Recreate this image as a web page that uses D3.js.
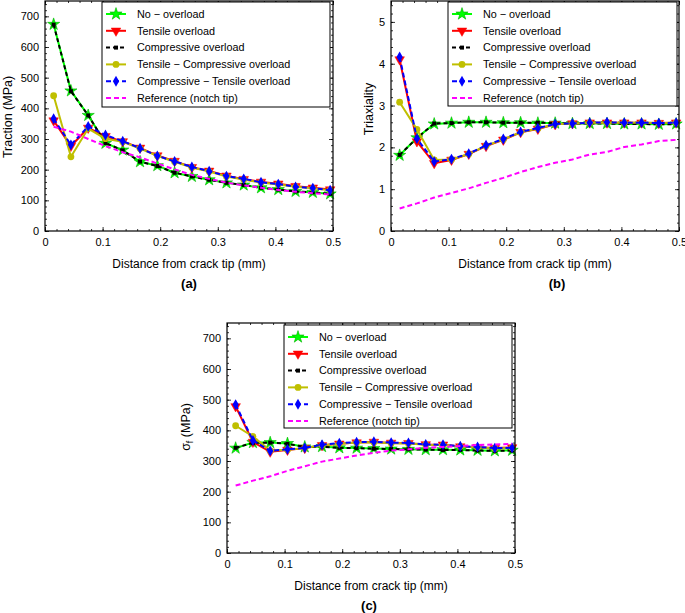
<!DOCTYPE html>
<html><head><meta charset="utf-8">
<script src="https://cdn.jsdelivr.net/npm/d3@7"></script>
<style>
body{margin:0;background:#fff}
svg{display:block}
text{font-family:"Liberation Sans",Arial,Helvetica,sans-serif;fill:#000}
</style>
</head><body><svg id="chart" width="685" height="613"></svg>
<script>
// ---------- data ----------
const xDist = [0.015,0.045,0.075,0.105,0.135,0.165,0.195,0.225,0.255,0.285,0.315,0.345,0.375,0.405,0.435,0.465,0.495];
const seriesNames = ["No − overload","Tensile overload","Compressive overload","Tensile − Compressive overload","Compressive − Tensile overload","Reference (notch tip)"];
const xTickValues = [0,0.1,0.2,0.3,0.4,0.5];
const stressTickValues = [0,100,200,300,400,500,600,700];
const triaxTickValues = [0,1,2,3,4,5];
const panelLabels = ["(a)","(b)","(c)"];
const xTitle = "Distance from crack tip (mm)";

// (a) Traction (MPa)
const tractionNoOverload  = [674,457,377,286,264,226,213,190,178,167,157,150,141,135,129,126,121];
const tractionTensile     = [360,277,336,309,292,271,246,228,208,196,180,169,160,154,146,141,135];
const tractionCompressive = [673,456,377,287,263,226,212,190,178,167,157,150,141,135,129,126,121];
const tractionTensComp    = [441,242,334,301,291,269,245,226,207,194,178,168,158,152,144,139,133];
const tractionCompTens    = [366,281,341,313,293,270,245,227,209,195,179,170,159,153,144,140,133];
const tractionReference   = [340,324,300,277,257,240,220,201,183,170,158,149,141,134,128,123,119];

// (b) Triaxiality
const triaxNoOverload  = [1.81,2.23,2.56,2.58,2.60,2.60,2.59,2.59,2.58,2.58,2.57,2.57,2.57,2.56,2.56,2.55,2.56];
const triaxTensile     = [4.10,2.14,1.62,1.70,1.84,2.03,2.18,2.36,2.44,2.55,2.57,2.59,2.59,2.59,2.59,2.58,2.59];
const triaxCompressive = [1.82,2.22,2.57,2.58,2.60,2.60,2.59,2.59,2.59,2.58,2.57,2.57,2.57,2.56,2.56,2.55,2.55];
const triaxTensComp    = [3.08,2.43,1.70,1.71,1.84,2.04,2.19,2.36,2.45,2.55,2.57,2.59,2.59,2.59,2.59,2.58,2.59];
const triaxCompTens    = [4.16,2.21,1.66,1.72,1.85,2.05,2.20,2.37,2.46,2.56,2.57,2.59,2.60,2.59,2.59,2.58,2.59];
const triaxReference   = [0.54,0.66,0.80,0.91,1.02,1.15,1.27,1.41,1.53,1.63,1.71,1.83,1.89,2.01,2.07,2.15,2.18];

// (c) sigma_f (MPa)
const sigmaNoOverload  = [342,360,360,357,346,347,343,342,341,339,338,337,337,336,335,333,335];
const sigmaTensile     = [478,362,330,336,342,351,356,360,362,359,358,354,353,347,345,342,344];
const sigmaCompressive = [343,359,360,356,346,346,343,342,340,339,338,337,336,336,334,333,334];
const sigmaTensComp    = [415,380,334,337,342,351,356,360,361,358,357,353,352,347,345,341,343];
const sigmaCompTens    = [484,367,333,338,343,353,358,361,363,360,359,354,353,348,346,342,343];
const sigmaReference   = [220,236,250,268,283,298,308,318,327,334,338,343,346,349,352,354,356];

// ---------- styles ----------
const styles = [
  {color:"#00ff00", dash:null,  marker:"star"},
  {color:"#ff0000", dash:null,  marker:"tri"},
  {color:"#000000", dash:"4,3", marker:"square"},
  {color:"#bfbf00", dash:null,  marker:"circle"},
  {color:"#0000ff", dash:"5,3", marker:"diamond"},
  {color:"#ff00ff", dash:"5,3", marker:null}
];

const svg = d3.select("#chart");
svg.append("rect").attr("width",685).attr("height",613).attr("fill","#fff");

function drawMarker(g, type, color, cx, cy){
  if(type==="star"){
    g.append("path").attr("d", d3.symbol(d3.symbolStar, 46)())
      .attr("transform",`translate(${cx},${cy})`)
      .attr("fill",color).attr("stroke","#00b000").attr("stroke-width",0.6);
  } else if(type==="tri"){
    g.append("path").attr("d", d3.symbol(d3.symbolTriangle, 40)())
      .attr("transform",`translate(${cx},${cy}) rotate(180)`)
      .attr("fill",color).attr("stroke",color).attr("stroke-width",0.5);
  } else if(type==="square"){
    g.append("rect").attr("x",cx-2).attr("y",cy-2).attr("width",4).attr("height",4).attr("fill",color);
  } else if(type==="circle"){
    g.append("circle").attr("cx",cx).attr("cy",cy).attr("r",3.4).attr("fill",color);
  } else if(type==="diamond"){
    g.append("path").attr("d", d3.symbol(d3.symbolDiamond, 34)())
      .attr("transform",`translate(${cx},${cy})`).attr("fill",color);
  }
}

function drawPanel(cfg){
  const g = svg.append("g");
  const x = d3.scaleLinear().domain([0,0.5]).range([cfg.x0,cfg.x1]);
  const y = d3.scaleLinear().domain(cfg.yDomain).range([cfg.yBot,cfg.yTop]);
  const xMinor = d3.range(0,0.5001,0.02);
  const yMinor = d3.range(0,cfg.yDomain[1]+1e-9,cfg.yMinorStep);
  const fmt = d => String(+d.toFixed(2));

  // minor ticks on all sides
  const addAxis = (axis, tr) => {
    const a = g.append("g").attr("transform",tr).call(axis);
    a.select(".domain").remove();
    a.selectAll("line").attr("stroke","#000").attr("stroke-width",0.8);
    return a;
  };
  addAxis(d3.axisBottom(x).tickValues(xMinor).tickSize(-2).tickFormat(""),`translate(0,${cfg.yBot})`);
  addAxis(d3.axisTop(x).tickValues(xMinor).tickSize(-2).tickFormat(""),`translate(0,${cfg.yTop})`);
  addAxis(d3.axisLeft(y).tickValues(yMinor).tickSize(-2).tickFormat(""),`translate(${cfg.x0},0)`);
  addAxis(d3.axisRight(y).tickValues(yMinor).tickSize(-2).tickFormat(""),`translate(${cfg.x1},0)`);
  // major ticks
  const xb = addAxis(d3.axisBottom(x).tickValues(xTickValues).tickSize(-4).tickPadding(7).tickFormat(fmt),`translate(0,${cfg.yBot})`);
  addAxis(d3.axisTop(x).tickValues(xTickValues).tickSize(-4).tickFormat(""),`translate(0,${cfg.yTop})`);
  const yl = addAxis(d3.axisLeft(y).tickValues(cfg.yTicks).tickSize(-4).tickPadding(6).tickFormat(fmt),`translate(${cfg.x0},0)`);
  addAxis(d3.axisRight(y).tickValues(cfg.yTicks).tickSize(-4).tickFormat(""),`translate(${cfg.x1},0)`);
  [xb,yl].forEach(a=>a.selectAll("text").attr("font-size",11).attr("font-family",'"Liberation Sans",Arial,sans-serif').attr("fill","#000"));

  // series
  const line = d3.line().x((d,i)=>x(xDist[i])).y(d=>y(d));
  cfg.series.forEach((vals,k)=>{
    const st = styles[k];
    g.append("path").datum(vals).attr("d",line)
      .attr("fill","none").attr("stroke",st.color).attr("stroke-width",2)
      .attr("stroke-dasharray",st.dash);
    if(st.marker){
      vals.forEach((v,i)=>drawMarker(g, st.marker, st.color, x(xDist[i]), y(v)));
    }
  });

  // frame
  g.append("rect").attr("x",cfg.x0).attr("y",cfg.yTop)
    .attr("width",cfg.x1-cfg.x0).attr("height",cfg.yBot-cfg.yTop)
    .attr("fill","none").attr("stroke","#000").attr("stroke-width",1.2);

  // legend
  const L = cfg.legend;
  const lg = g.append("g");
  lg.append("rect").attr("x",L.x).attr("y",L.y).attr("width",L.w).attr("height",L.h)
    .attr("fill","#fff").attr("stroke","#000").attr("stroke-width",1);
  seriesNames.forEach((name,k)=>{
    const st = styles[k];
    const cy = L.y + 12 + k*16.8;
    lg.append("line").attr("x1",L.x+4).attr("x2",L.x+24).attr("y1",cy).attr("y2",cy)
      .attr("stroke",st.color).attr("stroke-width",2).attr("stroke-dasharray",st.dash);
    if(st.marker) drawMarker(lg, st.marker, st.color, L.x+14, cy);
    lg.append("text").attr("x",L.x+35).attr("y",cy).attr("dy","0.36em")
      .attr("font-size",10.8).text(name);
  });

  // axis titles
  g.append("text").attr("x",(cfg.x0+cfg.x1)/2).attr("y",cfg.yBot+36.5)
    .attr("text-anchor","middle").attr("font-size",12).text(xTitle);
  const yt = g.append("text").attr("transform",`translate(${cfg.yTitleX},${cfg.yTitleY}) rotate(-90)`)
    .attr("text-anchor","middle").attr("font-size",12.5);
  if(cfg.yTitleSub){
    yt.append("tspan").text(cfg.yTitle);
    yt.append("tspan").attr("font-size",9).attr("dy",3).text(cfg.yTitleSub);
    yt.append("tspan").attr("dy",-3).text(" (MPa)");
  } else {
    yt.text(cfg.yTitle);
  }
  // caption
  g.append("text").attr("x",cfg.capX).attr("y",cfg.yBot+56.5).attr("text-anchor","middle")
    .attr("font-family",'"Liberation Serif","Times New Roman",serif').attr("font-weight","bold")
    .attr("font-size",13).text(cfg.caption);
}

drawPanel({
  x0:45, x1:333, yTop:1, yBot:231, yDomain:[0,750], yTicks:stressTickValues, yMinorStep:20,
  series:[tractionNoOverload,tractionTensile,tractionCompressive,tractionTensComp,tractionCompTens,tractionReference],
  legend:{x:102,y:2,w:228,h:105},
  yTitle:"Traction (MPa)", yTitleX:12, yTitleY:117, capX:189, caption:panelLabels[0]
});
drawPanel({
  x0:391, x1:679, yTop:1, yBot:231, yDomain:[0,5.5], yTicks:triaxTickValues, yMinorStep:0.2,
  series:[triaxNoOverload,triaxTensile,triaxCompressive,triaxTensComp,triaxCompTens,triaxReference],
  legend:{x:448,y:2,w:229,h:104},
  yTitle:"Triaxiality", yTitleX:373, yTitleY:109, capX:557, caption:panelLabels[1]
});
drawPanel({
  x0:227, x1:515, yTop:323, yBot:553, yDomain:[0,750], yTicks:stressTickValues, yMinorStep:20,
  series:[sigmaNoOverload,sigmaTensile,sigmaCompressive,sigmaTensComp,sigmaCompTens,sigmaReference],
  legend:{x:284,y:325,w:228,h:103},
  yTitle:"σ", yTitleSub:"f", yTitleX:190, yTitleY:427, capX:369, caption:panelLabels[2]
});
</script>
</body></html>
